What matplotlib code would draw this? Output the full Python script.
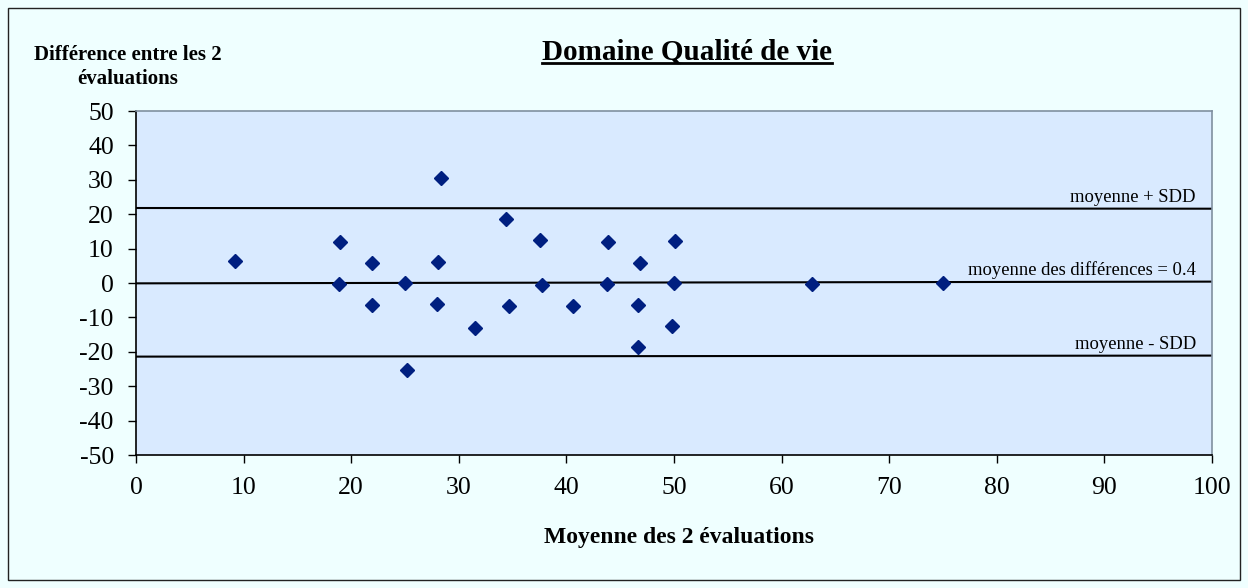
import matplotlib.pyplot as plt
from matplotlib.patches import Rectangle

# Bland-Altman data
moyenne = [9.2, 19.0, 18.9, 21.9, 21.9, 25.0, 25.2, 28.1, 28.0, 28.3, 31.5,
           34.4, 34.7, 37.5, 37.7, 40.6, 43.9, 43.8, 46.8, 46.7, 46.7,
           50.1, 50.0, 49.8, 62.8, 75.0]
difference = [6.4, 11.8, -0.2, 5.8, -6.4, -0.1, -25.4, 6.1, -6.2, 30.6, -13.0,
              18.7, -6.8, 12.6, -0.5, -6.6, 11.8, -0.3, 5.8, -6.4, -18.6,
              12.2, -0.1, -12.4, -0.4, 0.0]

line_x = [0, 100]
mean_line = [-0.1, 0.4]
upper_line = [21.8, 21.6]
lower_line = [-21.4, -21.1]

xticks = list(range(0, 101, 10))
yticks = list(range(-50, 51, 10))

plt.rcParams['font.family'] = ['Liberation Serif', 'DejaVu Serif']
plt.rcParams['axes.unicode_minus'] = False

fig = plt.figure(figsize=(12.48, 5.88), dpi=100, facecolor="#EFFFFF")
fig.patches.append(Rectangle((8 / 1248, 8 / 588), 1232 / 1248, 572 / 588,
                             transform=fig.transFigure, fill=False,
                             edgecolor="#222222", linewidth=1.0))

ax = fig.add_axes([136 / 1248, 133 / 588, 1076 / 1248, 344 / 588])
ax.set_facecolor("#D9EAFF")

ax.plot(line_x, upper_line, color="black", linewidth=1.5)
ax.plot(line_x, mean_line, color="black", linewidth=1.5)
ax.plot(line_x, lower_line, color="black", linewidth=1.5)

ax.plot(moyenne, difference, linestyle="none", marker="D", markersize=7,
        color="#001F80", zorder=3)

ax.text(98.5, upper_line[1] + 2.0, "moyenne + SDD", ha="right", va="baseline", fontsize=13.4)
ax.text(98.5, mean_line[1] + 2.0, "moyenne des différences = 0.4", ha="right",
        va="baseline", fontsize=13.4)
ax.text(98.5, lower_line[1] + 2.0, "moyenne - SDD", ha="right", va="baseline", fontsize=13.4)

ax.set_xlim(0, 100)
ax.set_ylim(-50, 50)
ax.set_xticks(xticks)
ax.set_yticks(yticks)
ax.tick_params(axis="both", direction="out", length=6, width=1, labelsize=18.5,
               color="black", pad=10)

for side in ["left", "bottom"]:
    ax.spines[side].set_color("black")
    ax.spines[side].set_linewidth(1.2)
for side in ["top", "right"]:
    ax.spines[side].set_color("#8090A0")
    ax.spines[side].set_linewidth(1.2)

fig.text(687 / 1248, 1 - 52 / 588, "Domaine Qualité de vie", ha="center",
         va="center", fontsize=21, fontweight="bold")
fig.text(128 / 1248, 1 - 67 / 588, "Différence entre les 2\névaluations",
         ha="center", va="center", fontsize=15, fontweight="bold", linespacing=1.25)
fig.text(679 / 1248, 1 - 537 / 588, "Moyenne des 2 évaluations", ha="center",
         va="center", fontsize=17, fontweight="bold")

# underline the title
fig.canvas.draw()
title = fig.texts[0]
bb = title.get_window_extent().transformed(fig.transFigure.inverted())
fig.lines.append(plt.Line2D([bb.x0, bb.x1], [bb.y0 + 0.005, bb.y0 + 0.005],
                            transform=fig.transFigure, color="black", linewidth=2.0))

fig.savefig("out.png", dpi=100, facecolor=fig.get_facecolor())
